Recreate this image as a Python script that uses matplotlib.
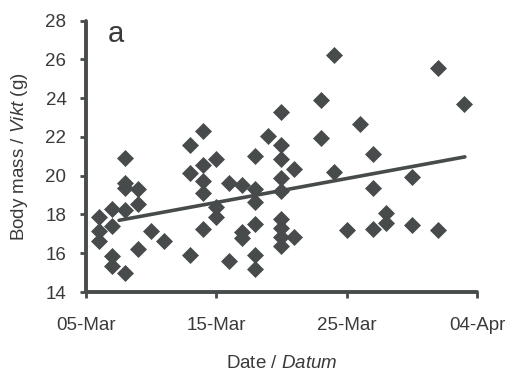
import matplotlib
matplotlib.use("Agg")
import matplotlib.pyplot as plt
import numpy as np

# Days after 05-Mar and body mass (g)
days = [1, 1, 1,
        2, 2, 2, 2,
        3, 3, 3, 3, 3,
        4, 4, 4,
        5, 6,
        8, 8, 8,
        9, 9, 9, 9, 9,
        10, 10, 10,
        11, 11,
        12, 12, 12,
        13, 13, 13, 13, 13, 13,
        14,
        15, 15, 15, 15, 15, 15, 15, 15, 15,
        16, 16,
        18, 18,
        19, 19,
        20, 21,
        22, 22, 22,
        23, 23,
        25, 25,
        27, 27,
        29]
mass = [17.85, 17.15, 16.65,
        18.3, 17.4, 15.85, 15.35,
        20.9, 19.6, 19.35, 18.25, 15.0,
        19.3, 18.55, 16.2,
        17.15, 16.63,
        21.6, 20.12, 15.89,
        22.32, 20.54, 19.75, 19.12, 17.25,
        20.84, 18.39, 17.87,
        19.63, 15.6,
        19.51, 17.1, 16.8,
        21.03, 19.3, 18.62, 17.53, 15.92, 15.17,
        22.04,
        23.3, 21.58, 20.84, 19.9, 19.2, 17.75, 17.3, 16.85, 16.4,
        20.32, 16.84,
        23.9, 21.92,
        26.23, 20.17,
        17.22, 22.65,
        21.1, 19.34, 17.27,
        18.08, 17.56,
        19.94, 17.44,
        25.57, 17.22,
        23.68]

trend_days = [2.55, 29.07]
trend_vals = [17.70, 20.97]

x_ticks = [0, 10, 20, 30]
x_labels = ["05-Mar", "15-Mar", "25-Mar", "04-Apr"]
y_ticks = [14, 16, 18, 20, 22, 24, 26, 28]

plt.rcParams['font.family'] = ['Liberation Sans', 'DejaVu Sans']
plt.rcParams['mathtext.fontset'] = 'custom'
plt.rcParams['mathtext.rm'] = 'Liberation Sans'
plt.rcParams['mathtext.it'] = 'Liberation Sans:italic'

dark = '#474b4b'
txt = '#3a3a3a'

fig = plt.figure(figsize=(5.14, 3.73), dpi=100)
ax = fig.add_axes([0.167, 0.217, 0.761, 0.728])

ax.plot(days, mass, linestyle='none', marker='D', markersize=8.0,
        color=dark, markeredgecolor=dark, markeredgewidth=0.5, zorder=3)
ax.plot(trend_days, trend_vals, color=dark, linewidth=2.6,
        solid_capstyle='round', zorder=2)

ax.set_xlim(0, 30)
ax.set_ylim(14, 28)
ax.set_xticks(x_ticks)
ax.set_xticklabels(x_labels)
ax.set_yticks(y_ticks)

for s in ['top', 'right']:
    ax.spines[s].set_visible(False)
for s in ['left', 'bottom']:
    ax.spines[s].set_linewidth(2.8)
    ax.spines[s].set_color(dark)
    ax.spines[s].set_capstyle('round')

ax.tick_params(axis='both', direction='out', length=4, width=2.0,
               color=dark, labelsize=13.5, labelcolor=txt)
ax.tick_params(axis='y', pad=10)
ax.tick_params(axis='x', pad=14)

ax.set_xlabel(r'Date / $\mathit{Datum}$', fontsize=13.5, color=txt, labelpad=15)
ax.set_ylabel(r'Body mass / $\mathit{Vikt}$ (g)', fontsize=13.5, color=txt, labelpad=11)

ax.text(0.055, 0.95, 'a', transform=ax.transAxes, fontsize=21, color=txt,
        ha='left', va='center')

fig.savefig('out.png', dpi=100, facecolor='white')
